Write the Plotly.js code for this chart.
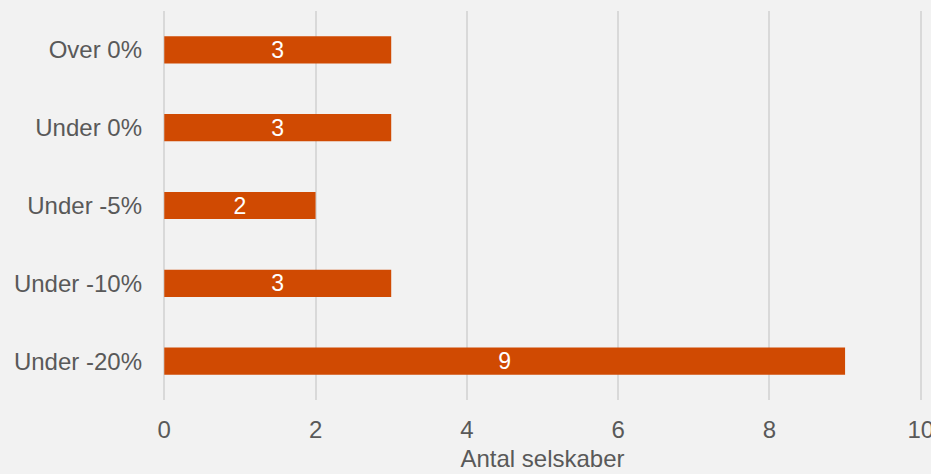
<!DOCTYPE html>
<html><head><meta charset="utf-8">
<script src="https://cdn.plot.ly/plotly-3.0.1.min.js"></script>
<style>html,body{margin:0;padding:0;background:#f2f2f2;}#chart{width:931px;height:474px;}</style>
</head><body><div id="chart"></div>
<script>
const categories = ["Under -20%", "Under -10%", "Under -5%", "Under 0%", "Over 0%"];
const values = [9, 3, 2, 3, 3];
const tickVals = [0, 2, 4, 6, 8, 10];

const font = {family: "Liberation Sans, Arial, sans-serif", size: 24, color: "#595959"};
Plotly.newPlot("chart", [{
  type: "bar", orientation: "h",
  y: categories, x: values,
  marker: {color: "#d04a02"},
  width: 0.35,
  text: values.map(String), textposition: "inside", insidetextanchor: "middle",
  textangle: 0, constraintext: "none",
  textfont: {family: font.family, size: 23, color: "#ffffff"},
  hoverinfo: "none"
}], {
  width: 931, height: 474,
  margin: {l: 162.2, r: 7.8, t: 11, b: 74},
  paper_bgcolor: "#f2f2f2", plot_bgcolor: "#f2f2f2",
  font: font,
  showlegend: false,
  xaxis: {range: [-0.03, 10.03], tickvals: tickVals, ticktext: tickVals.map(String),
    showgrid: true, gridcolor: "#d9d9d9", gridwidth: 2, zeroline: false,
    showline: false, ticks: "", ticklen: 0, tickfont: font,
    ticklabelstandoff: 13, ticklabeloverflow: "allow",
    title: {text: "Antal selskaber", font: font, standoff: 8}, automargin: false},
  yaxis: {showgrid: false, zeroline: false, showline: false, ticks: "",
    tickfont: font, ticklabelstandoff: 19, automargin: false}
}, {displayModeBar: false, staticPlot: true});
</script></body></html>
